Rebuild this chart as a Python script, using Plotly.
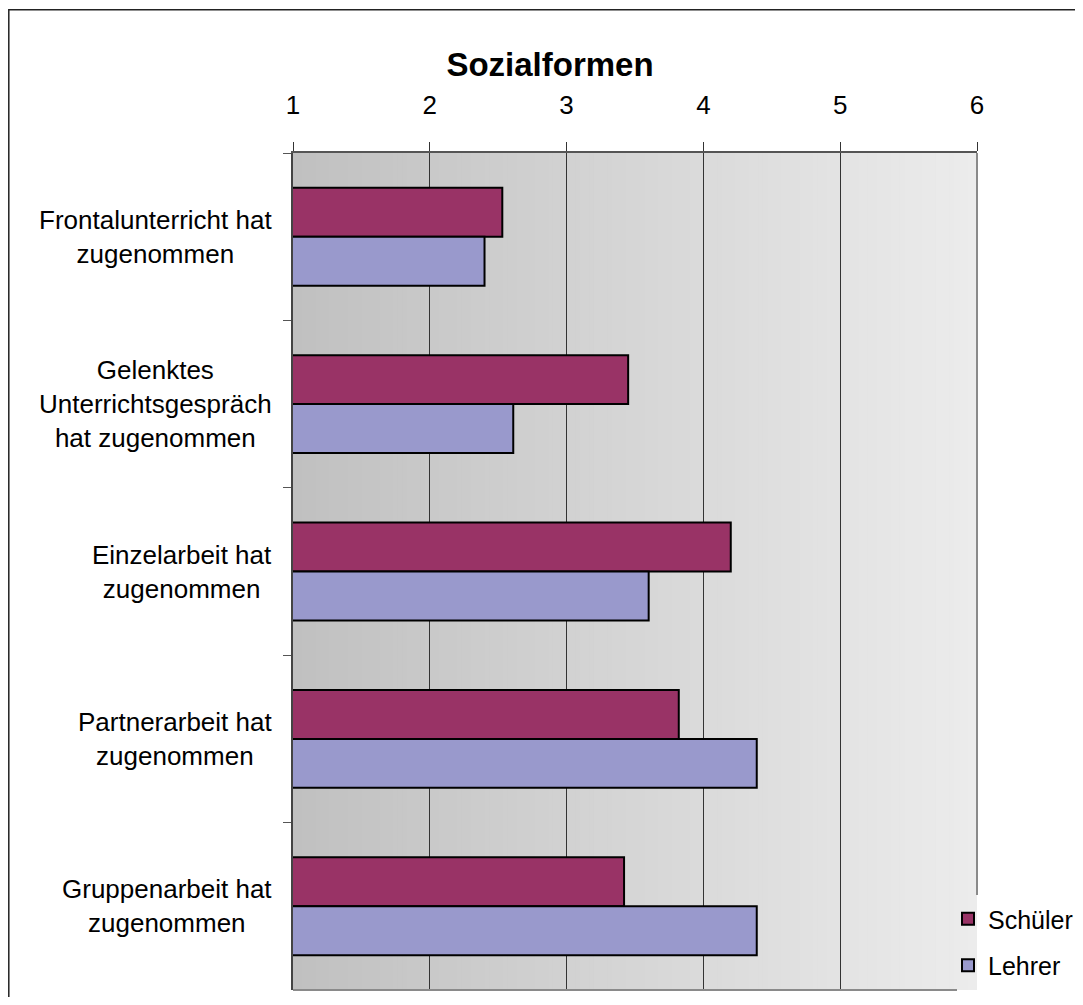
import plotly.graph_objects as go

# ---- data ----
categories = [
    "Frontalunterricht hat<br>zugenommen",
    "Gelenktes<br>Unterrichtsgespräch<br>hat zugenommen",
    "Einzelarbeit hat<br>zugenommen",
    "Partnerarbeit hat<br>zugenommen",
    "Gruppenarbeit hat<br>zugenommen",
]
schueler = [2.53, 3.45, 4.20, 3.82, 3.42]
lehrer = [2.40, 2.61, 3.60, 4.39, 4.39]
tick_vals = [1, 2, 3, 4, 5, 6]
tick_text = ["1", "2", "3", "4", "5", "6"]
title_text = "Sozialformen"

FONT = "Arial, Liberation Sans, sans-serif"
# page body has an 8px margin -> figure is 16px smaller than the window
OFF = 8
W, H = 1083 - 2 * OFF, 1005 - 2 * OFF
L = 293 - OFF
T = 153 - OFF
R = W - (977 - OFF)
B = H - (990 - OFF)
PW, PH = W - L - R, H - T - B


def px_x(p):
    """screen x pixel -> paper coordinate"""
    return (p - OFF - L) / PW


def px_y(p):
    """screen y pixel -> paper coordinate"""
    return 1 - (p - OFF - T) / PH


def cx(p):
    """screen x pixel -> container coordinate"""
    return (p - OFF) / W


def cy(p):
    """screen y pixel -> container coordinate"""
    return 1 - (p - OFF) / H


fig = go.Figure()
fig.add_trace(go.Bar(
    y=categories, x=schueler, orientation="h", name="Schüler",
    legendgroup="s",
    marker=dict(color="#993366", line=dict(color="#000000", width=2)),
))
fig.add_trace(go.Bar(
    y=categories, x=lehrer, orientation="h", name="Lehrer",
    legendgroup="l",
    marker=dict(color="#9999CC", line=dict(color="#000000", width=2)),
))

shapes = []
# gradient background (left darker -> right lighter)
n = 150
x0, x1 = tick_vals[0], tick_vals[-1]
for i in range(n):
    a = x0 + (x1 - x0) * i / n
    b = x0 + (x1 - x0) * (i + 1) / n
    g = 192 + (236 - 192) * (i + 0.5) / n
    shapes.append(dict(type="rect", xref="x", yref="paper", x0=a, x1=b + 0.01, y0=0, y1=1,
                       fillcolor=f"rgb({g:.1f},{g:.1f},{g:.1f})", line=dict(width=0), layer="below"))

# right border of plot area (stops above legend)
shapes.append(dict(type="line", xref="paper", yref="paper", x0=1, x1=1, y0=1, y1=px_y(895),
                   line=dict(color="#8a8a8a", width=2)))
# bottom border
shapes.append(dict(type="line", xref="paper", yref="paper", x0=0, x1=px_x(957), y0=0, y1=0,
                   line=dict(color="#8a8a8a", width=2)))
# outer chart frame
shapes.append(dict(type="rect", xref="paper", yref="paper",
                   x0=px_x(8.8), x1=px_x(1120), y0=px_y(1040), y1=px_y(9.8),
                   line=dict(color="#222222", width=1.5), fillcolor="rgba(0,0,0,0)"))

annotations = []
for c in categories:
    annotations.append(dict(
        xref="paper", yref="y", x=0, y=c, xshift=-19, xanchor="right", yanchor="middle",
        text=c, showarrow=False, align="center",
        font=dict(family=FONT, size=26, color="#000000"),
    ))

fig.update_layout(
    width=W, height=H,
    margin=dict(l=L, r=R, t=T, b=B, pad=0, autoexpand=False),
    paper_bgcolor="white", plot_bgcolor="white",
    barmode="group", bargap=0.415, bargroupgap=0,
    title=dict(text=f"<b>{title_text}</b>", x=cx(550), xref="container", xanchor="center",
               y=cy(64), yref="container", yanchor="middle",
               font=dict(family=FONT, size=33, color="#000000")),
    xaxis=dict(
        side="top", range=[x0, x1], tickvals=tick_vals, ticktext=tick_text,
        ticks="outside", ticklen=9, tickcolor="#333333", tickwidth=1,
        showline=True, linecolor="#555555", linewidth=2,
        showgrid=True, gridcolor="#333333", gridwidth=1, zeroline=False,
        tickfont=dict(family=FONT, size=26, color="#000000"),
        ticklabelstandoff=18,
    ),
    yaxis=dict(
        type="category", categoryorder="array", categoryarray=categories,
        range=[len(categories) - 0.5, -0.5],
        showline=True, linecolor="#444444", linewidth=2,
        ticks="outside", tickson="boundaries", ticklen=8, tickcolor="#555555",
        showticklabels=False, showgrid=False, zeroline=False,
    ),
    legend=dict(
        xref="container", yref="container",
        x=cx(948), y=cy(896), xanchor="left", yanchor="top",
        bgcolor="rgba(0,0,0,0)", borderwidth=0,
        traceorder="grouped", tracegroupgap=11,
        font=dict(family=FONT, size=25, color="#000000"),
    ),
    shapes=shapes,
    annotations=annotations,
)

fig.write_html("out.html")
